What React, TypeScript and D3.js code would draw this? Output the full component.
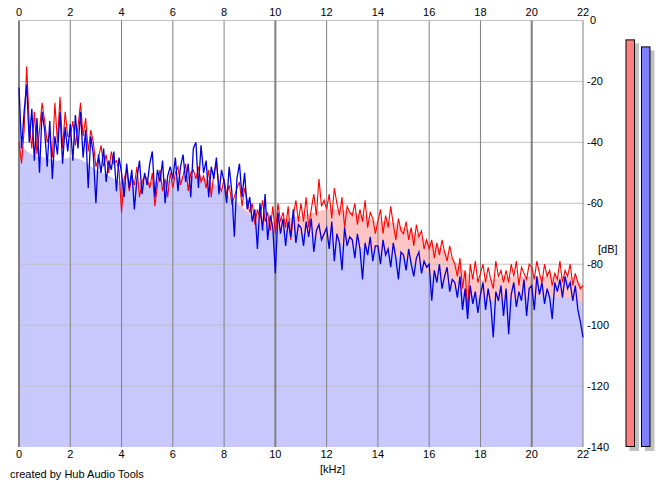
import React from 'react';
import * as d3 from 'd3';

const W = 665;
const H = 487;

// axis ticks
const freqTicks = [0, 2, 4, 6, 8, 10, 12, 14, 16, 18, 20, 22];
const dbTicks = [0, -20, -40, -60, -80, -100, -120, -140];

// spectrum bins, 0.1 kHz apart, values in dB
const binStep = 0.1;
const redDb = [
  -40, -47, -36, -15, -34, -42, -30, -44, -36, -27,
  -33, -40, -37, -45, -27, -40, -25, -42, -30, -38,
  -38, -33, -41, -35, -27, -38, -32, -43, -36, -40,
  -48, -45, -41, -48, -44, -50, -43, -47, -46, -49,
  -63, -52, -49, -56, -51, -54, -48, -58, -53, -51,
  -52, -55, -50, -61, -54, -49, -56, -52, -58, -50,
  -55, -50, -48, -54, -51, -47, -56, -50, -49, -52,
  -48, -53, -51, -55, -49, -58, -50, -47, -54, -56,
  -52, -57, -54, -60, -58, -55, -53, -61, -55, -59,
  -63, -60, -67, -62, -65, -59, -66, -63, -69, -61,
  -70, -60, -66, -63, -68, -61, -72, -64, -59, -66,
  -60, -66, -58, -68, -62, -57, -64, -52, -61, -59,
  -62, -57, -65, -55, -60, -64, -58, -68, -61, -63,
  -64, -60, -67, -62, -66, -59, -68, -63, -65, -70,
  -66, -62, -70, -64, -68, -61, -67, -72, -65, -69,
  -70, -66, -72, -68, -74, -67, -71, -69, -75, -72,
  -75, -72, -78, -73, -77, -72, -76, -79, -74, -78,
  -80, -84, -78, -88, -82, -95, -80, -85, -79, -86,
  -83, -80, -86, -81, -85, -88, -79, -84, -82, -86,
  -82, -86, -80, -84, -79, -87, -81, -83, -85, -80,
  -81, -85, -79, -83, -86, -80, -84, -82, -87, -83,
  -85, -79, -86, -82, -84, -80, -87, -83, -86, -88,
  -87
];
const blueDb = [
  -22, -42, -30, -21, -40, -29, -46, -32, -50, -30,
  -36, -48, -33, -52, -38, -44, -30, -47, -35, -43,
  -34, -46, -31, -42, -30, -45, -36, -55, -38, -44,
  -60, -44, -50, -42, -53, -46, -49, -43, -56, -45,
  -50, -58, -47, -55, -49, -62, -52, -46, -57, -50,
  -54, -47, -43, -58, -49, -53, -46, -60, -51, -48,
  -52, -45, -56, -48, -44, -53, -47, -58, -42, -40,
  -55, -41, -50, -46, -58, -48, -52, -45, -57, -49,
  -53, -60, -48, -56, -71, -52, -47, -58, -50, -62,
  -58, -66, -62, -75, -60, -69, -57, -72, -64, -68,
  -83, -63, -70, -65, -74, -66, -71, -62, -73, -67,
  -68, -74, -66, -71, -65, -76, -69, -67, -72, -70,
  -68, -75, -66, -79, -70, -73, -82, -68, -74, -71,
  -72, -78, -70, -75, -85, -73, -77, -71, -79, -74,
  -74, -80, -72, -77, -75, -81, -73, -78, -85, -76,
  -77, -82, -75, -80, -84, -78, -76, -83, -79, -81,
  -80, -92, -82, -86, -80, -88, -84, -81, -89, -85,
  -86, -91, -84, -95, -88, -98, -87, -93, -89, -96,
  -90, -86, -95, -88, -93, -104, -89, -92, -87, -97,
  -88, -103, -90, -86, -94, -89, -92, -85, -97, -88,
  -87, -95, -84, -90, -86, -93, -88, -91, -98, -86,
  -89, -85, -91, -84, -88, -86, -92, -87, -95, -99,
  -104
];

// smoothed averages used for the filled areas, 0.5 kHz apart
const avgStep = 0.5;
const redAvg = [
  -41, -45, -46, -47, -46, -47, -50, -52, -54, -54,
  -54, -54, -53, -52, -52, -54, -57, -60, -63, -65,
  -66, -65, -64, -63, -62, -62, -63, -64, -66, -66,
  -68, -70, -73, -75, -79, -83, -85, -85, -84, -84,
  -84, -84, -84, -84, -87
];
const blueAvg = [
  -40, -44, -45, -46, -45, -46, -49, -51, -53, -53,
  -53, -53, -52, -51, -51, -53, -56, -60, -64, -67,
  -69, -69, -70, -71, -72, -73, -74, -75, -76, -77,
  -78, -80, -83, -85, -88, -90, -91, -92, -92, -91,
  -91, -90, -91, -91, -93
];

// level meters (red, blue) in dB
const levelDb = [-6.2, -8.5];
const levelColors = ['#ff8080', '#8080ff'];

const font = '"Liberation Sans", Arial, sans-serif';

const App = () => {
  const x = d3.scaleLinear().domain([0, 22]).range([19, 583]);
  const y = d3.scaleLinear().domain([0, -140]).range([20.5, 447]);

  const line = d3
    .line<number>()
    .x((d, i) => x(i * binStep))
    .y((d) => y(d));
  const area = d3
    .area<number>()
    .x((d, i) => x(i * avgStep))
    .y0(y(-140))
    .y1((d) => y(d))
    .curve(d3.curveMonotoneX);

  const barX = d3.scaleBand<number>().domain([0, 1]).range([625.5, 650.5]).paddingInner(0.387);

  return (
    <svg
      width={W}
      height={H}
      style={{ position: 'absolute', left: 0, top: 0, background: '#fff' }}
      fontFamily={font}
      fontSize={11}
    >
      {/* filled averages */}
      <path d={area(redAvg) || ''} fill="#ffc4c4" />
      <path d={area(blueAvg) || ''} fill="#c8c8ff" />

      {/* horizontal grid */}
      {dbTicks.slice(0, -1).map((d) => (
        <line key={'h' + d} x1={x(0)} x2={x(22)} y1={y(d)} y2={y(d)} stroke="#c0c0c0" />
      ))}
      {/* vertical grid */}
      {freqTicks.map((f) => (
        <line
          key={'v' + f}
          x1={x(f)}
          x2={x(f)}
          y1={y(0)}
          y2={y(-140)}
          stroke="#808080"
          strokeWidth={f % 10 === 0 ? 2 : 1}
        />
      ))}

      {/* spectra */}
      <path d={line(redDb) || ''} fill="none" stroke="#ff0000" strokeWidth={1.1} />
      <path d={line(blueDb) || ''} fill="none" stroke="#0000e0" strokeWidth={1.3} />

      {/* frequency labels top and bottom */}
      {freqTicks.map((f) => (
        <g key={'t' + f}>
          <text x={x(f)} y={16} textAnchor="middle">{f}</text>
          <text x={x(f)} y={458} textAnchor="middle">{f}</text>
        </g>
      ))}
      {/* dB labels */}
      {dbTicks.map((d) => (
        <text key={'d' + d} x={587} dx={d === 0 ? 3 : 0} y={y(d)} dy="0.35em">{d}</text>
      ))}
      <text x={320} y={473}>[kHz]</text>
      <text x={598} y={253}>[dB]</text>
      <text x={10} y={478}>created by Hub Audio Tools</text>

      {/* level meters */}
      {levelDb.map((v, i) => {
        const bx = barX(i) || 0;
        const bw = barX.bandwidth();
        return (
          <g key={'l' + i}>
            <rect x={bx + 4} y={y(v) + 4} width={bw} height={y(-140) - y(v)} fill="#c0c0c0" />
            <rect
              x={bx + 0.5}
              y={y(v) + 0.5}
              width={bw - 1}
              height={y(-140) - y(v) - 1}
              fill={levelColors[i]}
              stroke="#000"
            />
          </g>
        );
      })}
    </svg>
  );
};

export default App;
